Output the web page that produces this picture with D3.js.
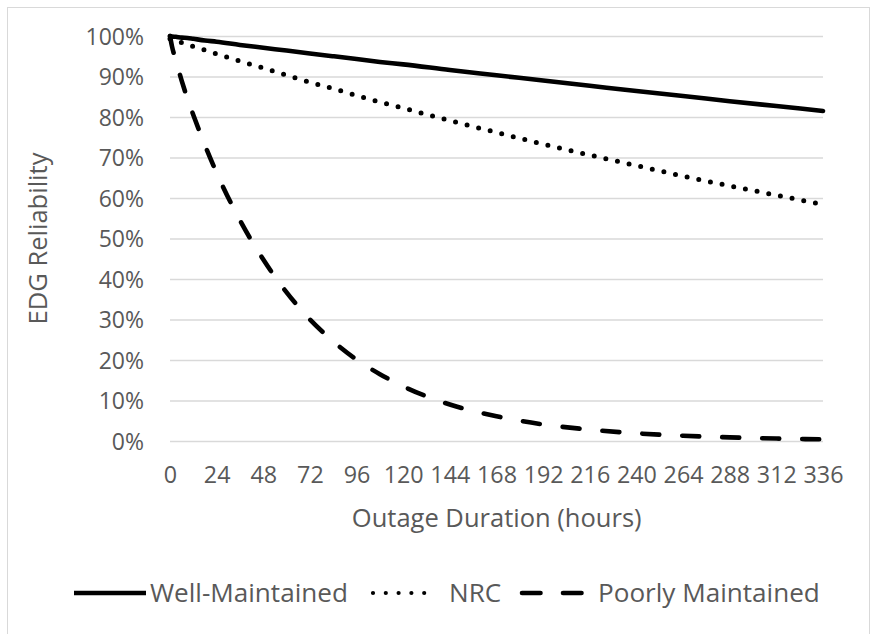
<!DOCTYPE html>
<html><head><meta charset="utf-8">
<script src="https://cdn.jsdelivr.net/npm/d3@7"></script>
<style>
body{margin:0;background:#fff}
svg{display:block}
text{font-family:"Open Sans",Lato,sans-serif;fill:#595959}
</style>
</head><body>
<svg id="c" width="875" height="634"></svg>
<script>
// ---- data ----
const hours = [0, 1, 3, 6, 9, 12, 18, 24, 36, 48, 60, 72, 84, 96, 108, 120, 144, 168, 192, 216, 240, 264, 288, 312, 336];
const wellMaintained   = [100, 99.9, 99.8, 99.6, 99.5, 99.3, 98.9, 98.6, 97.8, 97.1, 96.4, 95.7, 95.0, 94.3, 93.6, 93.0, 91.6, 90.3, 89.0, 87.7, 86.4, 85.2, 83.9, 82.7, 81.5];
const nrc              = [99.3, 99.1, 98.8, 98.4, 97.9, 97.4, 96.5, 95.6, 93.8, 92.1, 90.3, 88.6, 87.0, 85.3, 83.7, 82.2, 79.1, 76.2, 73.3, 70.6, 68.0, 65.4, 63.0, 60.7, 58.4];
const poorlyMaintained = [100, 97.5, 94.0, 89.0, 84.5, 80.5, 73.0, 66.2, 54.5, 44.8, 36.7, 30.0, 24.6, 20.1, 16.5, 13.5, 9.0, 6.1, 4.1, 2.8, 1.9, 1.3, 0.9, 0.6, 0.4];
const xTickLabels = [0, 24, 48, 72, 96, 120, 144, 168, 192, 216, 240, 264, 288, 312, 336];
const yTickLabels = [0, 10, 20, 30, 40, 50, 60, 70, 80, 90, 100];
const seriesNames = ["Well-Maintained", "NRC", "Poorly Maintained"];
const xTitle = "Outage Duration (hours)";
const yTitle = "EDG Reliability";

// ---- layout ----
const svg = d3.select("#c");
const L = 170, R = 823, T = 36, B = 441;

svg.append("rect").attr("x", 7.5).attr("y", 7.5).attr("width", 862).attr("height", 660)
  .attr("fill", "#fff").attr("stroke", "#d9d9d9").attr("stroke-width", 1);

const x = d3.scaleLinear().domain([0, 336]).range([L, R]);
const y = d3.scaleLinear().domain([0, 100]).range([B, T]);

function fitWidth(sel, target) {
  const w = sel.node().getComputedTextLength();
  const fs = parseFloat(sel.attr("font-size"));
  sel.attr("font-size", fs * target / w);
}

// y axis with gridlines
const gy = svg.append("g").attr("transform", `translate(${L},0)`)
  .call(d3.axisLeft(y).tickValues(yTickLabels).tickSize(-(R - L)).tickPadding(26)
    .tickFormat(d => d + "%"));
gy.select(".domain").remove();
gy.selectAll(".tick line").attr("stroke", "#d9d9d9").attr("stroke-width", 1.5);
gy.selectAll(".tick text").attr("font-size", 23).attr("dy", "0.36em")
  .style("font-family", "Open Sans").attr("fill", "#595959");

// x axis
const gx = svg.append("g").attr("transform", `translate(0,${B})`)
  .call(d3.axisBottom(x).tickValues(xTickLabels).tickSize(0).tickPadding(0));
gx.select(".domain").remove();
gx.selectAll(".tick text").attr("font-size", 23.3).attr("y", 42.3).attr("dy", 0)
  .style("font-family", "Open Sans").attr("fill", "#595959");

// axis titles
const xt = svg.append("text").attr("x", 496.7).attr("y", 526.7).attr("text-anchor", "middle")
  .attr("font-size", 26).text(xTitle);
fitWidth(xt, 290);
const titleSize = parseFloat(xt.attr("font-size"));
svg.append("text").attr("transform", `translate(47,238.5) rotate(-90)`).attr("text-anchor", "middle")
  .attr("font-size", titleSize).text(yTitle);

// lines
const styles = [
  {dash: null},
  {dash: "0 11.9"},
  {dash: "17 23"}
];
const allSeries = [wellMaintained, nrc, poorlyMaintained];
const line = d3.line().x((d, i) => x(hours[i])).y(d => y(d)).curve(d3.curveMonotoneX);
allSeries.forEach((s, k) => {
  svg.append("path").datum(s).attr("d", line).attr("fill", "none")
    .attr("stroke", "#000").attr("stroke-width", k === 1 ? 5 : 4.6)
    .attr("stroke-linecap", "round").attr("stroke-linejoin", "round")
    .attr("stroke-dasharray", styles[k].dash);
});

// legend
const legendY = 593;
const legendItems = [
  {x1: 74, x2: 146, tx: 150},
  {x1: 373, x2: 437, tx: 449},
  {x1: 522, x2: 582, tx: 598}
];
let legendSize = null;
legendItems.forEach((it, k) => {
  svg.append("line").attr("x1", it.x1).attr("x2", it.x2).attr("y1", legendY).attr("y2", legendY)
    .attr("stroke", "#000").attr("stroke-width", k === 1 ? 4.2 : 4.6)
    .attr("stroke-linecap", k === 0 ? "butt" : "round")
    .attr("stroke-dasharray", k === 0 ? null : (k === 1 ? "0 12.8" : "18.5 22.5"));
  const t = svg.append("text").attr("x", it.tx).attr("y", 602).attr("font-size", 26).text(seriesNames[k]);
  if (k === 0) { fitWidth(t, 198); legendSize = parseFloat(t.attr("font-size")); }
  else t.attr("font-size", legendSize);
});
</script>
</body></html>
